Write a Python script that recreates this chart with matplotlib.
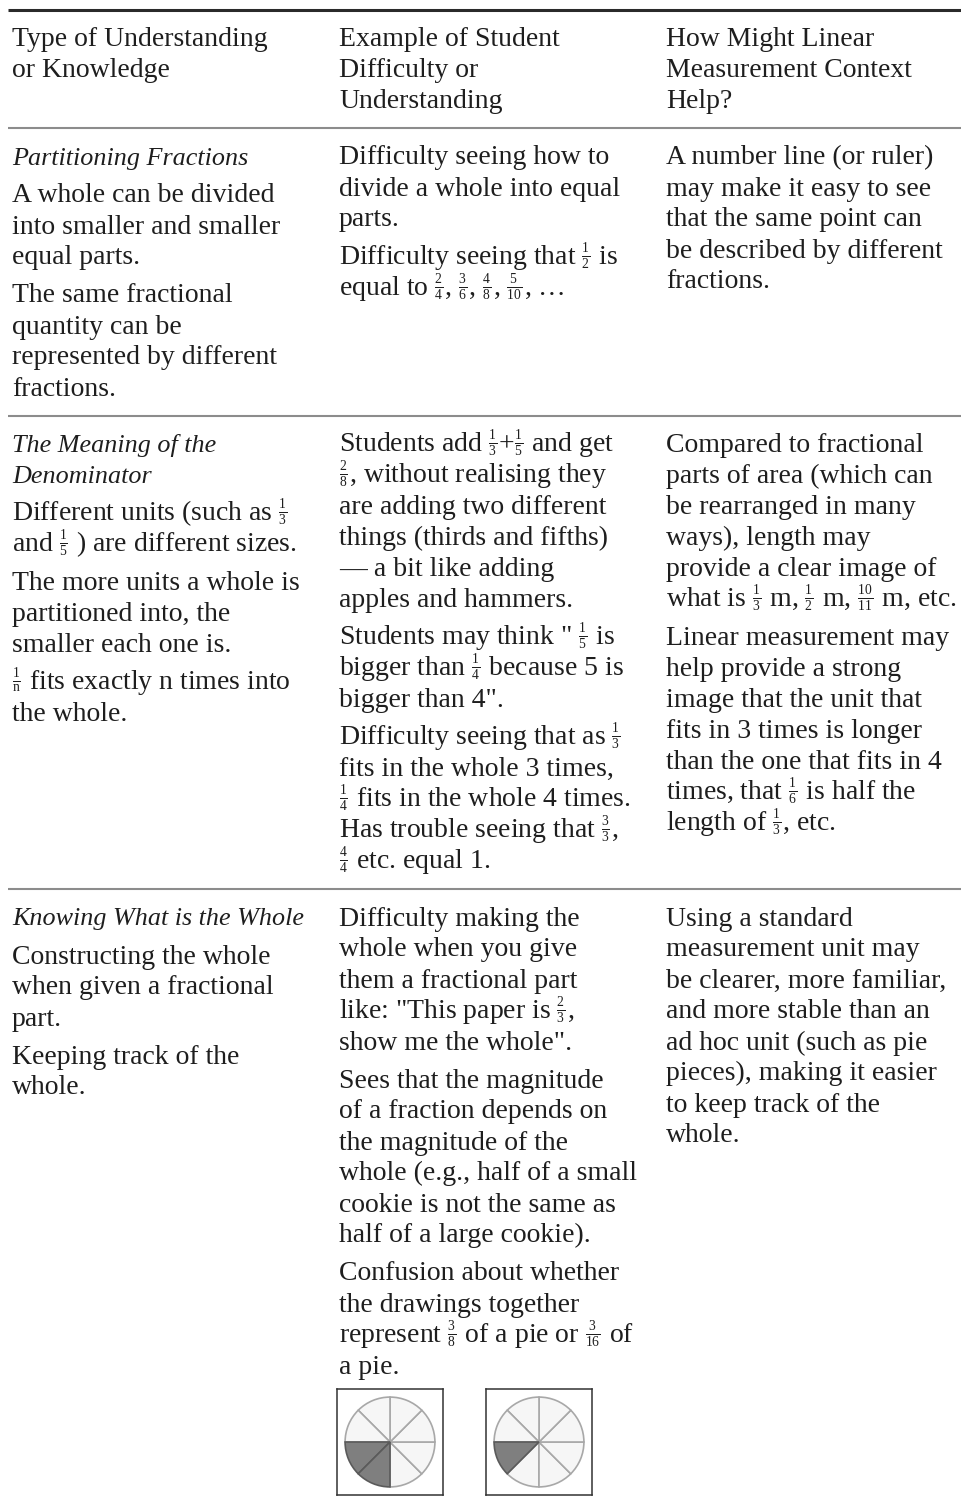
import re
import matplotlib
matplotlib.use("Agg")
import matplotlib.pyplot as plt

# table text: each cell is a list of paragraphs, each paragraph a list of lines.
# [a/b] marks a small stacked fraction
header = [
    [["Type of Understanding", "or Knowledge"]],
    [["Example of Student", "Difficulty or", "Understanding"]],
    [["How Might Linear", "Measurement Context", "Help?"]],
]

row_titles = [["Partitioning Fractions"], ["The Meaning of the", "Denominator"],
              ["Knowing What is the Whole"]]

col1 = [
    [["A whole can be divided", "into smaller and smaller", "equal parts."],
     ["The same fractional", "quantity can be", "represented by different", "fractions."]],
    [["Different units (such as [1/3]", "and [1/5] ) are different sizes."],
     ["The more units a whole is", "partitioned into, the", "smaller each one is."],
     ["[1/n] fits exactly n times into", "the whole."]],
    [["Constructing the whole", "when given a fractional", "part."],
     ["Keeping track of the", "whole."]],
]

col2 = [
    [["Difficulty seeing how to", "divide a whole into equal", "parts."],
     ["Difficulty seeing that [1/2] is",
      "equal to [2/4], [3/6], [4/8], [5/10], …"]],
    [["Students add [1/3]+[1/5] and get", "[2/8], without realising they",
      "are adding two different", "things (thirds and fifths)", "— a bit like adding",
      "apples and hammers."],
     ['Students may think " [1/5] is', "bigger than [1/4] because 5 is",
      'bigger than 4".'],
     ["Difficulty seeing that as [1/3]", "fits in the whole 3 times,",
      "[1/4] fits in the whole 4 times.", "Has trouble seeing that [3/3],",
      "[4/4] etc. equal 1."]],
    [["Difficulty making the", "whole when you give", "them a fractional part",
      'like: "This paper is [2/3],', 'show me the whole".'],
     ["Sees that the magnitude", "of a fraction depends on", "the magnitude of the",
      "whole (e.g., half of a small", "cookie is not the same as", "half of a large cookie)."],
     ["Confusion about whether", "the drawings together",
      "represent [3/8] of a pie or [3/16] of", "a pie."]],
]

col3 = [
    [["A number line (or ruler)", "may make it easy to see", "that the same point can",
      "be described by different", "fractions."]],
    [["Compared to fractional", "parts of area (which can", "be rearranged in many",
      "ways), length may", "provide a clear image of",
      "what is [1/3] m, [1/2] m, [10/11] m, etc."],
     ["Linear measurement may", "help provide a strong", "image that the unit that",
      "fits in 3 times is longer", "than the one that fits in 4",
      "times, that [1/6] is half the", "length of [1/3], etc."]],
    [["Using a standard", "measurement unit may", "be clearer, more familiar,",
      "and more stable than an", "ad hoc unit (such as pie", "pieces), making it easier",
      "to keep track of the", "whole."]],
]

# pie drawings in the last row
pie_slices = 8
pie_shaded = [2, 1]

# layout (pixels)
W, H = 962, 1503
COL_X = [12, 339, 666]
LINE = 31.0
PARA = 7.0
FS = 20
FS_IT = 18.8
TXT = "#1e1e1e"

plt.rcParams["font.family"] = ["Liberation Serif", "DejaVu Serif"]
plt.rcParams["mathtext.fontset"] = "custom"
plt.rcParams["mathtext.rm"] = "Liberation Serif"
plt.rcParams["mathtext.it"] = "Liberation Serif:italic"
plt.rcParams["mathtext.default"] = "rm"

fig = plt.figure(figsize=(W / 100, H / 100), dpi=100)
ax = fig.add_axes([0, 0, 1, 1])
ax.set_xlim(0, W)
ax.set_ylim(H, 0)
ax.axis("off")


def fracs(s):
    # [a/b] -> small script-size stacked fraction
    return re.sub(r"\[(\w+)/(\w+)\]",
                  lambda m: r"$\genfrac{}{}{1.0}{2}{%s}{%s}$" % (m.group(1), m.group(2)), s)


def draw_cell(x, y0, paras, style="normal"):
    """draw paragraphs starting at line center y0, return last line center"""
    y = y0
    first = True
    fs = FS_IT if style == "italic" else FS
    for para in paras:
        if not first:
            y += LINE + PARA
        first = False
        for i, line in enumerate(para):
            if i > 0:
                y += LINE
            ax.text(x, y + 7, fracs(line), fontsize=fs, color=TXT, style=style,
                    ha="left", va="baseline")
    return y


# top rule
ax.plot([8, W], [10, 10], color="#2a2a2a", lw=2.2, solid_capstyle="butt")

y0 = 39
last = max(draw_cell(COL_X[c], y0, header[c]) for c in range(3))
sep = last + 27
ax.plot([8, W], [sep, sep], color="#8c8c8c", lw=1.5, solid_capstyle="butt")

pie_top = None
for r in range(3):
    y0 = sep + 29.5
    title = row_titles[r]
    t_end = draw_cell(COL_X[0], y0, [title], style="italic")
    ends = [
        draw_cell(COL_X[0], t_end + LINE + PARA, col1[r]),
        draw_cell(COL_X[1], y0, col2[r]),
        draw_cell(COL_X[2], y0, col3[r]),
    ]
    if r < 2:
        sep = max(ends) + 27
        ax.plot([8, W], [sep, sep], color="#8c8c8c", lw=1.5, solid_capstyle="butt")
    else:
        pie_top = ends[1] + 22

# pie boxes
box_w, box_h = 106, 107
for k, shaded in enumerate(pie_shaded):
    left = COL_X[1] - 2 + k * 149
    pax = fig.add_axes([left / W, 1 - (pie_top + box_h) / H, box_w / W, box_h / H])
    colors = ["#7f7f7f" if i < shaded else "#f6f6f6" for i in range(pie_slices)]
    wedges, _ = pax.pie([1] * pie_slices, colors=colors, startangle=180,
                        counterclock=True, radius=1.0,
                        wedgeprops=dict(linewidth=1.2, edgecolor="#a8a8a8"))
    for i, w in enumerate(wedges):
        if i < shaded:
            w.set_edgecolor("#5a5a5a")
            w.set_zorder(3)
    pax.set_xlim(-1.18, 1.18)
    pax.set_ylim(-1.18, 1.18)
    pax.set_frame_on(True)
    pax.set_xticks([])
    pax.set_yticks([])
    for s in pax.spines.values():
        s.set_color("#333333")
        s.set_linewidth(1.1)

fig.savefig("out.png", dpi=100)
